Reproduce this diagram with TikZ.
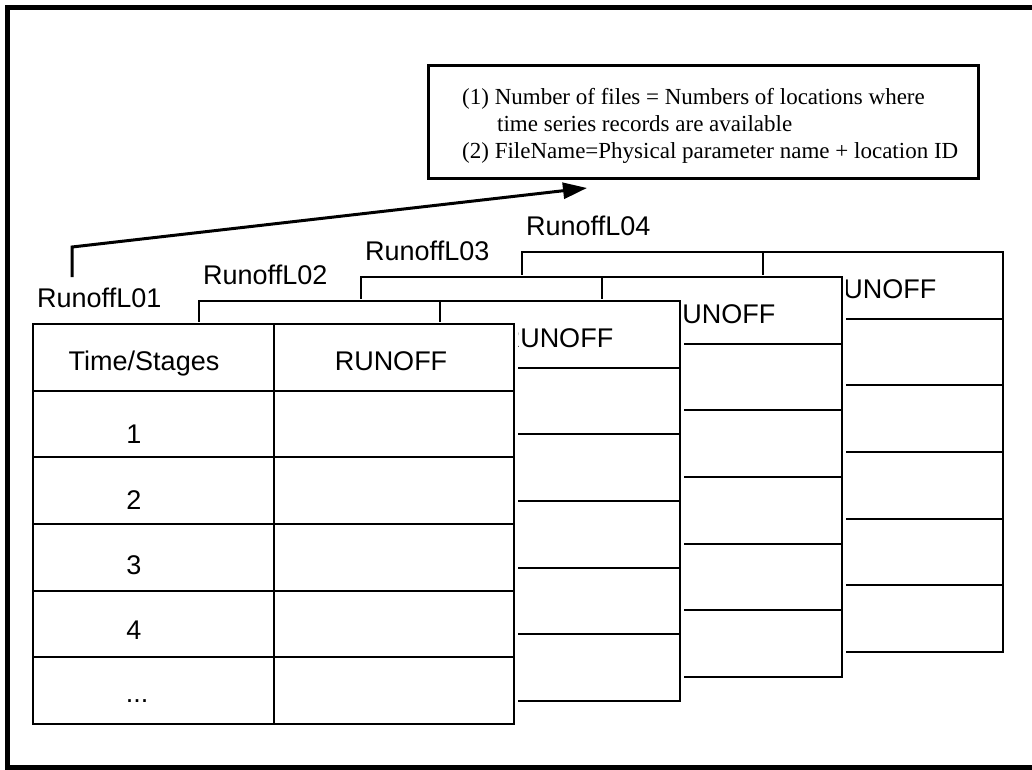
\documentclass[tikz,border=0pt]{standalone}
\usepackage{fontspec}
\setmainfont{Liberation Sans}
\newfontfamily\notefont{Liberation Serif}
\usetikzlibrary{arrows.meta}
\tikzset{
  tabline/.style={line width=2.6pt, line cap=rect},
  cell/.style={anchor=base, inner sep=0pt, font=\fontsize{27}{32}\selectfont},
  lbl/.style={anchor=base west, inner sep=0pt, font=\fontsize{27}{32}\selectfont},
  notetext/.style={anchor=base west, inner sep=0pt, font=\notefont\fontsize{23}{27}\selectfont},
  notebox/.style={draw, line width=3pt, minimum width=550pt, minimum height=113pt, inner sep=0pt},
  pointer/.style={line width=3pt, -{Triangle[length=24pt,width=16pt]}},
}
\newcommand\runtab[4]{%
\begin{scope}[shift={(#2,#3)}]
  \fill[white] (-2,-2) rectangle (485,404);
  \draw[tabline] (0,0) rectangle (481,400);
  \draw[tabline] (241,0) -- (241,400);
  \foreach \rr in {67,133,200,267,333} \draw[tabline] (0,\rr) -- (481,\rr);
  \node[lbl] (#1-name) at (4,-17) {#4};
  \node[cell] (#1-h1) at (111,46) {Time/Stages};
  \node[cell] (#1-h2) at (358,46) {RUNOFF};
  \node[cell] (#1-r1) at (101,119) {1};
  \node[cell] (#1-r2) at (101,185) {2};
  \node[cell] (#1-r3) at (101,250) {3};
  \node[cell] (#1-r4) at (101,315) {4};
  \node[cell] (#1-r5) at (104,378) {...};
\end{scope}}
\begin{document}
\begin{tikzpicture}[x=1pt,y=-1pt]
  \useasboundingbox (0,0) rectangle (1032,769);
  \clip (0,0) rectangle (1032,769);
  \fill[white] (0,0) rectangle (1032,769);
  \draw[line width=5pt] (7.5,7.5) rectangle (1045,767.5);
  % note box
  \node[notebox] (note) at (703,121.5) {};
  \node[notetext] (l1) at (462,104) {(1) Number of files = Numbers of locations where};
  \node[notetext] (l2) at (497,131) {time series records are available};
  \node[notetext] (l3) at (462,158) {(2) FileName=Physical parameter name + location ID};
  % tables, back to front
  \runtab{t4}{522}{252}{RunoffL04}
  \runtab{t3}{361}{277}{RunoffL03}
  \runtab{t2}{199}{301}{RunoffL02}
  \runtab{t1}{33}{324}{RunoffL01}
  % pointer
  \coordinate (p0) at (72,277);
  \coordinate (p1) at (72,247);
  \coordinate (p2) at (587,188);
  \draw[pointer] (p0) -- (p1) -- (p2);
\end{tikzpicture}
\end{document}
